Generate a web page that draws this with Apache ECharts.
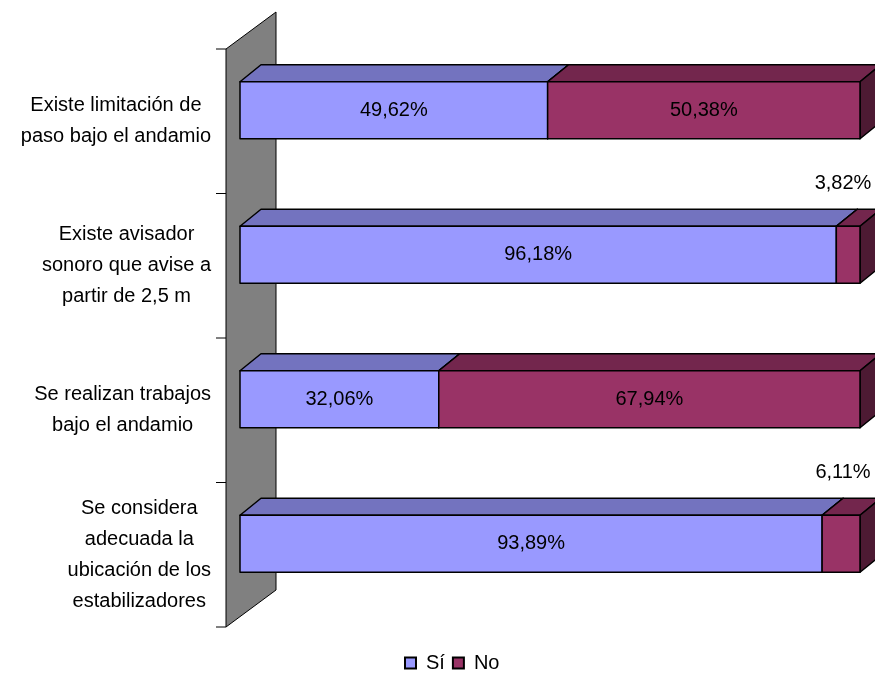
<!DOCTYPE html>
<html>
<head>
    <meta charset="utf-8">
    <title>andamio</title>
    <script type="text/javascript" src="https://cdn.jsdelivr.net/npm/echarts@6/dist/echarts.min.js"></script>
    <style>
        html, body { margin: 0; padding: 0; background: #fff; }
        #chart { width: 875px; height: 675px; }
    </style>
</head>
<body>
<div id="chart"></div>
<script type="text/javascript">
    var categories = [
        'Existe limitación de\npaso bajo el andamio',
        'Existe avisador\nsonoro que avise a\npartir de 2,5 m',
        'Se realizan trabajos\nbajo el andamio',
        'Se considera\nadecuada la\nubicación de los\nestabilizadores'
    ];
    var siValues = [49.62, 96.18, 32.06, 93.89];
    var noValues = [50.38, 3.82, 67.94, 6.11];
    var seriesNames = ['Sí', 'No'];

    var font = '"Liberation Sans", Arial, sans-serif';
    // front / top / side colours for each series
    var faces = [
        { front: '#9999FF', top: '#7373BF', side: '#5C5C99' },
        { front: '#993366', top: '#73264D', side: '#4D1A33' }
    ];
    var DX = 21, DY = 17;

    function fmt(v) {
        return v.toFixed(2).replace('.', ',') + '%';
    }

    function makeRender(idx) {
        var c = faces[idx];
        return function (params, api) {
            var cat = api.value(0), s = api.value(1), e = api.value(2);
            var p0 = api.coord([s, cat]);
            var p1 = api.coord([e, cat]);
            var h = api.size([0, 1])[1] * 0.395;
            var x0 = p0[0], x1 = p1[0];
            var top = p0[1] - h / 2, bot = p0[1] + h / 2;
            var stroke = { stroke: '#000', lineWidth: 1.5, lineJoin: 'round' };
            var kids = [
                { type: 'polygon', shape: { points: [[x0, top], [x0 + DX, top - DY], [x1 + DX, top - DY], [x1, top]] },
                  style: Object.assign({ fill: c.top }, stroke) },
                { type: 'polygon', shape: { points: [[x1, top], [x1 + DX, top - DY], [x1 + DX, bot - DY], [x1, bot]] },
                  style: Object.assign({ fill: c.side }, stroke) },
                { type: 'rect', shape: { x: x0, y: top, width: x1 - x0, height: h },
                  style: Object.assign({ fill: c.front }, stroke) }
            ];
            var v = e - s;
            if (v >= 10) {
                kids.push({ type: 'text', style: { text: fmt(v), x: (x0 + x1) / 2, y: p0[1],
                    align: 'center', verticalAlign: 'middle', fill: '#000', font: '20px ' + font } });
            } else {
                // small slices: value written above the bar end
                kids.push({ type: 'text', style: { text: fmt(v), x: x1 - 17, y: top - 43,
                    align: 'center', verticalAlign: 'middle', fill: '#000', font: '20px ' + font } });
            }
            return { type: 'group', children: kids };
        };
    }

    var siData = siValues.map(function (v, i) { return [i, 0, v]; });
    var noData = noValues.map(function (v, i) { return [i, siValues[i], siValues[i] + v]; });

    var option = {
        animation: false,
        grid: { left: 240, right: 15, top: 38, bottom: 59 },
        legend: {
            top: 648,
            left: 399,
            icon: 'rect',
            itemWidth: 11,
            itemHeight: 11,
            itemGap: 7,
            textStyle: { fontFamily: font, fontSize: 20, color: '#000', padding: [0, 0, 0, 5] },
            data: seriesNames
        },
        graphic: [
            { type: 'polygon', z: -1, shape: { points: [[226, 49], [276, 12], [276, 590], [226, 627]] },
              style: { fill: '#808080', stroke: '#000', lineWidth: 1 } },
            { type: 'polyline', shape: { points: [[216, 49], [226, 49]] }, style: { stroke: '#000', lineWidth: 1 } },
            { type: 'polyline', shape: { points: [[216, 193.5], [226, 193.5]] }, style: { stroke: '#000', lineWidth: 1 } },
            { type: 'polyline', shape: { points: [[216, 338], [226, 338]] }, style: { stroke: '#000', lineWidth: 1 } },
            { type: 'polyline', shape: { points: [[216, 482.5], [226, 482.5]] }, style: { stroke: '#000', lineWidth: 1 } },
            { type: 'polyline', shape: { points: [[216, 627], [226, 627]] }, style: { stroke: '#000', lineWidth: 1 } }
        ],
        xAxis: {
            type: 'value', min: 0, max: 100, show: false
        },
        yAxis: {
            type: 'category',
            inverse: true,
            data: categories,
            axisLine: { show: false },
            axisTick: { show: false },
            axisLabel: {
                margin: 29,
                align: 'right',
                padding: [22, 0, 0, 0],
                formatter: function (val) {
                    return val.split('\n').map(function (l) { return '{c|' + l + '}'; }).join('\n');
                },
                rich: {
                    c: {
                        align: 'center',
                        fontFamily: font,
                        fontSize: 20,
                        lineHeight: 31,
                        color: '#000'
                    }
                }
            }
        },
        series: [
            {
                name: seriesNames[0], type: 'custom', clip: false,
                itemStyle: { color: faces[0].front, borderColor: '#000', borderWidth: 1 },
                encode: { x: [1, 2], y: 0 },
                renderItem: makeRender(0),
                data: siData
            },
            {
                name: seriesNames[1], type: 'custom', clip: false,
                itemStyle: { color: faces[1].front, borderColor: '#000', borderWidth: 1 },
                encode: { x: [1, 2], y: 0 },
                renderItem: makeRender(1),
                data: noData
            }
        ]
    };

    var myChart = echarts.init(document.getElementById('chart'));
    myChart.setOption(option);
</script>
</body>
</html>
